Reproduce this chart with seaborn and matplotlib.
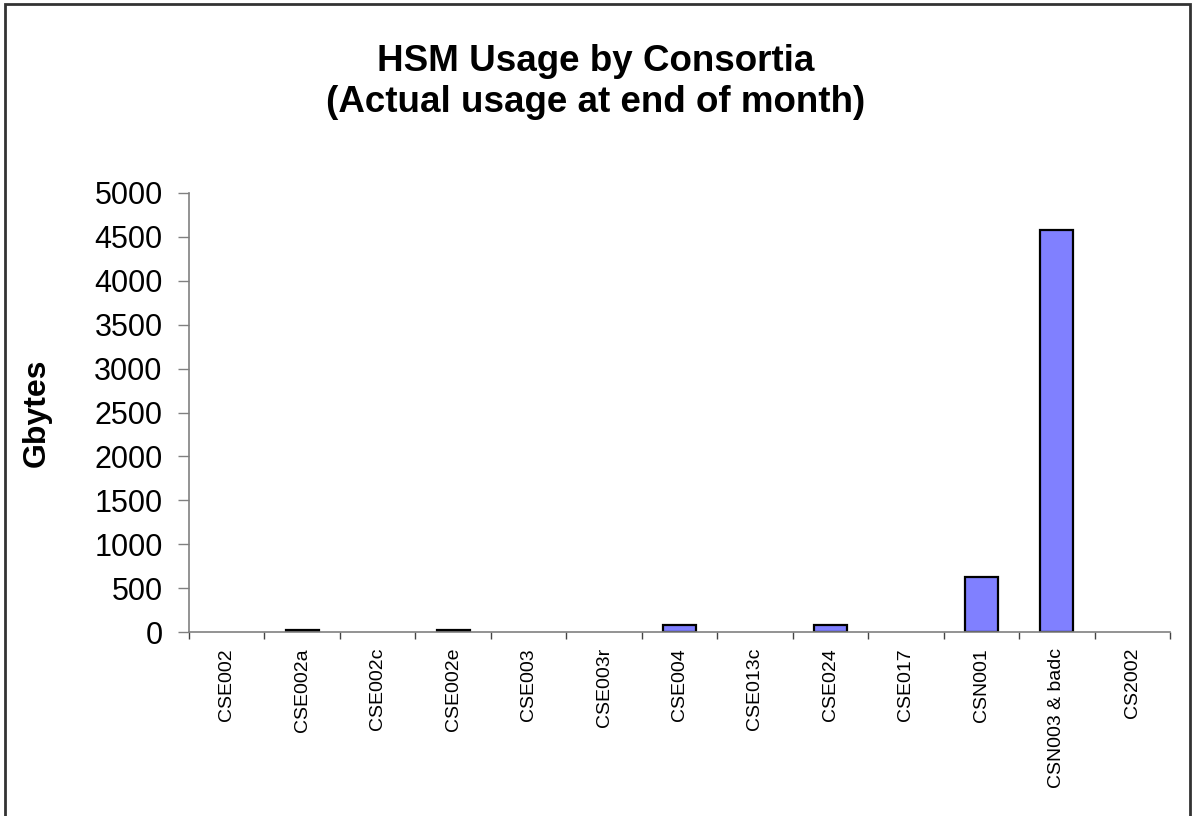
import matplotlib
matplotlib.use("Agg")
import matplotlib.pyplot as plt
import numpy as np
import pandas as pd
import seaborn as sns
from matplotlib.patches import Rectangle

sns.set_theme(style="white")
plt.rcParams['font.family'] = ['Liberation Sans', 'DejaVu Sans']
plt.rcParams['text.color'] = 'black'
plt.rcParams['axes.labelcolor'] = 'black'
plt.rcParams['xtick.color'] = 'black'
plt.rcParams['ytick.color'] = 'black'

consortia = ['CSE002', 'CSE002a', 'CSE002c', 'CSE002e', 'CSE003', 'CSE003r', 'CSE004',
             'CSE013c', 'CSE024', 'CSE017', 'CSN001', 'CSN003 & badc', 'CS2002']
gbytes = [0, 25, 0, 25, 0, 0, 80, 0, 75, 0, 625, 4580, 0]
yticks = list(range(0, 5001, 500))

df = pd.DataFrame({'consortium': consortia, 'gbytes': gbytes})

fig = plt.figure(figsize=(11.92, 8.16), dpi=100)
ax = fig.add_axes([189/1192, 1 - 632/816, (1170 - 189)/1192, (632 - 193)/816])

sns.barplot(data=df, x='consortium', y='gbytes', color='#8080FF', saturation=1,
            edgecolor='black', linewidth=1.6, width=0.44, ax=ax)

# hide empty bars so no black stroke sits on the axis
for p in ax.patches:
    if p.get_height() == 0:
        p.set_visible(False)

ax.set_xlim(-0.5, len(consortia) - 0.5)
ax.set_ylim(0, 5000)
ax.set_yticks(yticks)
ax.set_yticklabels([str(v) for v in yticks], fontsize=22)

# category labels centred, tick marks between categories
ax.set_xticks(np.arange(len(consortia)))
ax.set_xticklabels(consortia, rotation=90, fontsize=14, va='top')
ax.set_xticks(np.arange(len(consortia) + 1) - 0.5, minor=True)
ax.tick_params(axis='x', which='major', length=0, pad=11.5)
ax.tick_params(axis='x', which='minor', length=5, width=1, color='#444444', direction='out', bottom=True)
ax.tick_params(axis='y', length=8, width=1, color='#808080', direction='out', pad=11, left=True)

for s in ['top', 'right']:
    ax.spines[s].set_visible(False)
for s in ['left', 'bottom']:
    ax.spines[s].set_color('#808080')
    ax.spines[s].set_linewidth(1.2)

ax.set_xlabel('')
ax.set_ylabel('Gbytes', fontsize=23, fontweight='bold')
ax.yaxis.set_label_coords((52 - 189)/981, 0.5)

fig.text(0.5, 1 - 82/816, 'HSM Usage by Consortia\n(Actual usage at end of month)',
         ha='center', va='center', fontsize=26.5, fontweight='bold', linespacing=1.2)

# outer chart border
fig.patches.append(Rectangle((5/1192, -0.02), 1185/1192, 1.02 - 4/816, transform=fig.transFigure,
                             fill=False, edgecolor='#333333', linewidth=2))

fig.savefig('out.png', dpi=100)
